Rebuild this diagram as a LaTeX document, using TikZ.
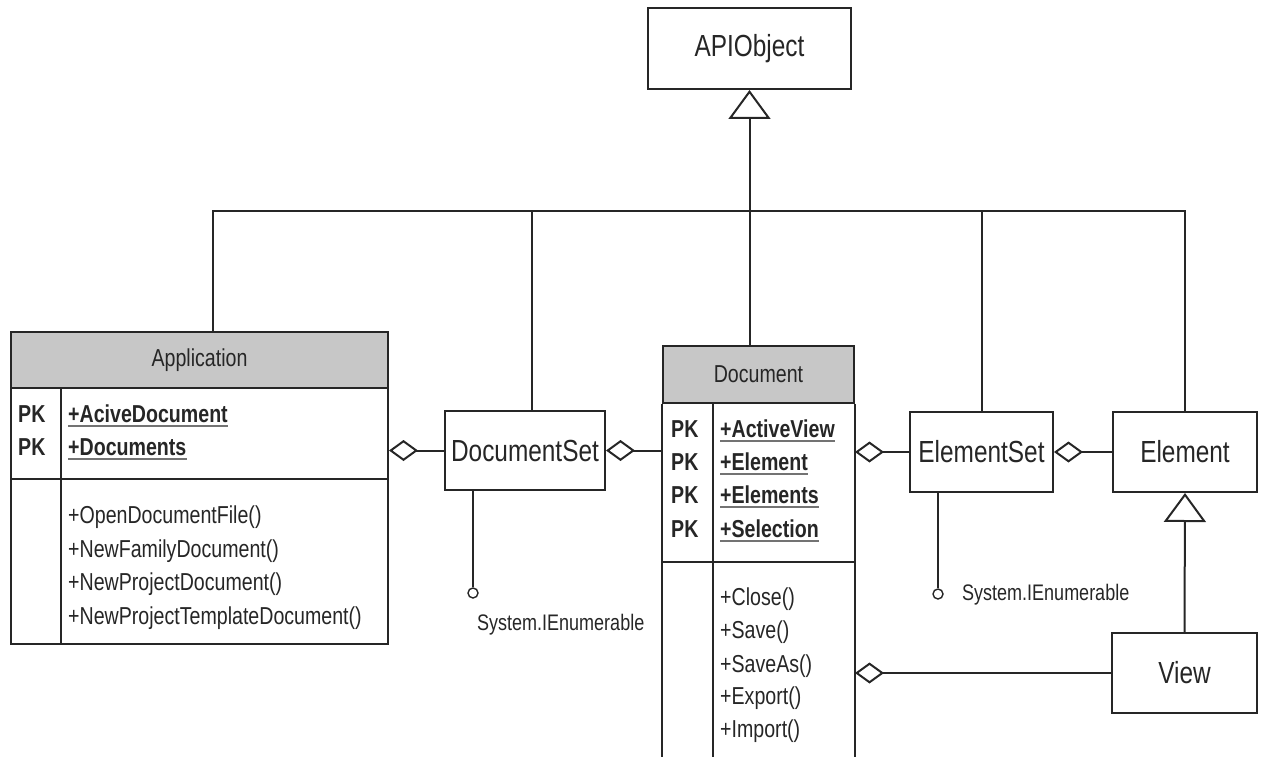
\documentclass[tikz,border=0pt]{standalone}
\usepackage{fontspec}
\setmainfont[FakeStretch=0.8]{Liberation Sans}
\usetikzlibrary{arrows.meta}

\tikzset{
  x=1pt, y=-1pt,
  outline/.style={draw=black!85, line width=2pt},
  classbox/.style={outline, fill=white, inner sep=0pt, text=black!85,
                   font=\fontsize{30.5}{36}\selectfont},
  header/.style={outline, fill=black!22, inner sep=0pt, text=black!85,
                 font=\fontsize{24.5}{28}\selectfont},
  part/.style={outline, inner sep=0pt, anchor=north west},
  member/.style={anchor=base west, inner sep=0pt, text=black!85,
                 font=\fontsize{24.5}{28}\selectfont},
  keyfield/.style={member, font=\fontsize{24.5}{28}\selectfont\bfseries},
  keyline/.style={draw=black!55, line width=2.6pt},
  link/.style={draw=black!85, line width=2pt},
  aggr/.style={link, {Diamond[open, length=29pt, width=21pt]}-},
  inherit/.style={link, -{Triangle[open, length=29pt, width=42pt]}},
  socket/.style={circle, draw=black!85, line width=1.4pt, fill=white,
                 minimum size=10pt, inner sep=0pt},
  socketlabel/.style={anchor=base west, inner sep=0pt, text=black!85,
                      font=\fontsize{22.5}{26}\selectfont},
}

\begin{document}
\begin{tikzpicture}
\useasboundingbox (0,0) rectangle (1261,757);

% ---- simple classes ----
\node[classbox, minimum width=203pt, minimum height=81pt] (api)    at (749.5,48.5) {APIObject};
\node[classbox, minimum width=160pt, minimum height=79pt] (docset) at (525,450.5)  {DocumentSet};
\node[classbox, minimum width=143pt, minimum height=80pt] (elset)  at (981.5,452)  {ElementSet};
\node[classbox, minimum width=144pt, minimum height=80pt] (elem)   at (1185,452)   {Element};
\node[classbox, minimum width=145pt, minimum height=80pt] (view)   at (1184.5,673) {View};

% ---- Application class ----
\node[header, minimum width=377pt, minimum height=56pt, anchor=north west] (apphead) at (10,331) {Application};
\node[part, minimum width=377pt, minimum height=91pt]  (appattr) at (10,387) {};
\node[part, minimum width=377pt, minimum height=165pt] (appops)  at (10,478) {};
\coordinate (appdiv) at (61,387);
\draw[link] (appdiv) -- (appdiv |- appops.south);

\node[keyfield] (apk1) at (18,422) {PK};
\node[keyfield] (apk2) at (18,455) {PK};
\node[keyfield] (aa1) at (68,422) {+AciveDocument};
\node[keyfield] (aa2) at (68,455) {+Documents};
\foreach \n in {aa1,aa2}
  \draw[keyline] ([yshift=-4pt]\n.base west) -- ([yshift=-4pt]\n.base east);
\node[member] (am1) at (68,523) {+OpenDocumentFile()};
\node[member] (am2) at (68,557) {+NewFamilyDocument()};
\node[member] (am3) at (68,590) {+NewProjectDocument()};
\node[member] (am4) at (68,624) {+NewProjectTemplateDocument()};

% ---- Document class (runs past the lower edge) ----
\node[header, minimum width=191pt, minimum height=57pt, anchor=north west] (dochead) at (662,345) {Document};
\coordinate (docbottom) at (757.5,762);
\coordinate (docsep) at (662,562);
\coordinate (docdiv) at (713,402);
\draw[link] (dochead.south west) -- (dochead.south west |- docbottom);
\draw[link] (dochead.south east) -- (dochead.south east |- docbottom);
\draw[link] (docsep) -- (docsep -| dochead.east);
\draw[link] (docdiv) -- (docdiv |- docbottom);

\node[keyfield] (dpk1) at (671,437) {PK};
\node[keyfield] (dpk2) at (671,470) {PK};
\node[keyfield] (dpk3) at (671,503) {PK};
\node[keyfield] (dpk4) at (671,537) {PK};
\node[keyfield] (da1) at (720,437) {+ActiveView};
\node[keyfield] (da2) at (720,470) {+Element};
\node[keyfield] (da3) at (720,503) {+Elements};
\node[keyfield] (da4) at (720,537) {+Selection};
\foreach \n in {da1,da2,da3,da4}
  \draw[keyline] ([yshift=-4pt]\n.base west) -- ([yshift=-4pt]\n.base east);
\node[member] (dm1) at (720,605) {+Close()};
\node[member] (dm2) at (720,638) {+Save()};
\node[member] (dm3) at (720,672) {+SaveAs()};
\node[member] (dm4) at (720,704) {+Export()};
\node[member] (dm5) at (720,737) {+Import()};

% ---- generalization to APIObject ----
\coordinate (busL) at (213,211);
\coordinate (busR) at (1185,211);
\coordinate (dsdrop) at (532,211);
\draw[link] (busL |- apphead.north) -- (busL) -- (busR) -- (elem.north);
\draw[link] (dsdrop) -- (dsdrop |- docset.north);
\draw[link] (elset.north |- busL) -- (elset.north);
\draw[inherit] (dochead.north -| api.south) -- (api.south);
\draw[inherit] (view.north) -- (elem.south);

% ---- aggregations ----
\draw[aggr] (docset.west -| appattr.east) -- (docset.west);
\draw[aggr] (docset.east) -- (docset.east -| dochead.west);
\draw[aggr] (elset.west -| dochead.east) -- (elset.west);
\draw[aggr] (elset.east) -- (elem.west);
\draw[aggr] (view.west -| dochead.east) -- (view.west);

% ---- provided interfaces ----
\node[socket] (ienum1) at (473,593) {};
\draw[link] (ienum1.north |- docset.south) -- (ienum1.north);
\node[socketlabel] (ienumtxt1) at (477,630) {System.IEnumerable};
\node[socket] (ienum2) at (938,594) {};
\draw[link] (ienum2.north |- elset.south) -- (ienum2.north);
\node[socketlabel] (ienumtxt2) at (962,600) {System.IEnumerable};
\end{tikzpicture}
\end{document}
